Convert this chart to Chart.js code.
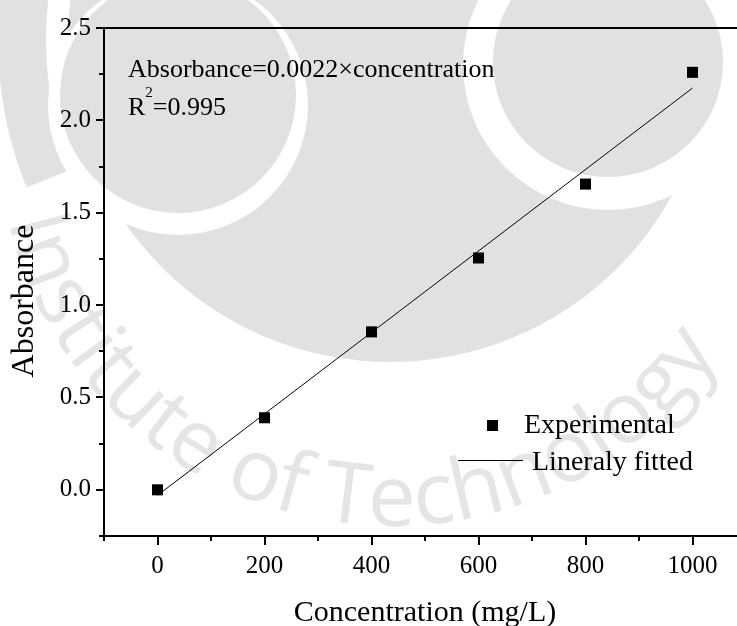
<!DOCTYPE html>
<html><head><meta charset="utf-8">
<script src="https://cdn.jsdelivr.net/npm/chart.js@4/dist/chart.umd.min.js"></script>
<style>html,body{margin:0;padding:0;overflow:hidden;background:#fff;width:737px;height:626px}canvas{display:block}</style>
</head><body>
<canvas id="c" width="780" height="626" style="width:780px;height:626px"></canvas>
<script>
const concentration = [0, 200, 400, 600, 800, 1000];
const absorbance = [0.0, 0.39, 0.855, 1.255, 1.655, 2.26];
const fitX = [0, 1000];
const fitY = [-0.03, 2.175];
const xTickValues = [0, 200, 400, 600, 800, 1000];
const xMinorValues = [-100, 100, 300, 500, 700, 900, 1100];
const yTickValues = [0, 0.5, 1.0, 1.5, 2.0, 2.5];
const yMinorValues = [-0.25, 0.25, 0.75, 1.25, 1.75, 2.25];
const seriesLabels = ['Experimental', 'Lineraly fitted'];
const xTitle = 'Concentration (mg/L)';
const yTitle = 'Absorbance';
const equationText = 'Absorbance=0.0022\u00d7concentration';
const r2Value = '=0.995';
const watermarkText = 'Institute of Technology';

const SERIF = '"Liberation Serif", "Times New Roman", serif';

const watermark = {
  id: 'watermark',
  beforeDraw(chart) {
    const ctx = chart.ctx;
    ctx.save();
    ctx.fillStyle = '#fff';
    ctx.fillRect(0, 0, chart.width, chart.height);
    const g = '#e1e1e1';
    // outer partial ring (upper left)
    ctx.strokeStyle = g;
    ctx.lineWidth = 48;
    ctx.beginPath();
    ctx.arc(392, 40, 370, 158 * Math.PI / 180, 255 * Math.PI / 180);
    ctx.stroke();
    // inner big disk
    ctx.fillStyle = g;
    ctx.beginPath(); ctx.arc(390, 40, 322, 0, Math.PI * 2); ctx.fill();
    // white surrounds of eyes
    ctx.fillStyle = '#fff';
    ctx.beginPath(); ctx.arc(178, 105, 130, 0, Math.PI * 2); ctx.fill();
    ctx.beginPath(); ctx.arc(608, 65, 145, 0, Math.PI * 2); ctx.fill();
    // eyes
    ctx.fillStyle = g;
    ctx.beginPath(); ctx.arc(178, 95, 118, 0, Math.PI * 2); ctx.fill();
    ctx.beginPath(); ctx.arc(608, 62, 115, 0, Math.PI * 2); ctx.fill();
    // curved text
    const cx = 392, cy = 132, R = 394;
    ctx.font = '86px "Open Sans", "DejaVu Sans", sans-serif';
    ctx.fillStyle = '#e5e5e5';
    ctx.textAlign = 'left';
    ctx.textBaseline = 'alphabetic';
    let ang = 167 * Math.PI / 180;
    for (const ch of watermarkText) {
      const w = ctx.measureText(ch).width;
      const mid = ang - (w / 2) / R;
      ctx.save();
      ctx.translate(cx + R * Math.cos(mid), cy + R * Math.sin(mid));
      ctx.rotate(mid - Math.PI / 2);
      ctx.fillText(ch, -w / 2, 0);
      ctx.restore();
      ang -= w / R;
    }
    ctx.restore();
  }
};

const decorations = {
  id: 'decorations',
  afterDraw(chart) {
    const ctx = chart.ctx;
    const xs = chart.scales.x, ys = chart.scales.y;
    const a = chart.chartArea;
    ctx.save();
    ctx.strokeStyle = '#000';
    ctx.fillStyle = '#000';
    ctx.lineWidth = 2;
    ctx.beginPath(); ctx.moveTo(a.left - 1, a.top); ctx.lineTo(chart.width, a.top); ctx.stroke();
    const tick = (vals, len, horiz) => {
      for (const v of vals) {
        ctx.beginPath();
        if (horiz) {
          const p = Math.round(xs.getPixelForValue(v));
          ctx.moveTo(p, a.bottom); ctx.lineTo(p, a.bottom + len);
        } else {
          const p = Math.round(ys.getPixelForValue(v));
          ctx.moveTo(a.left, p); ctx.lineTo(a.left - len, p);
        }
        ctx.stroke();
      }
    };
    tick(xTickValues, 9, true);
    tick(xMinorValues, 5, true);
    tick(yTickValues, 8, false);
    tick(yMinorValues, 5, false);
    ctx.textBaseline = 'alphabetic';
    ctx.textAlign = 'center';
    ctx.font = '30px ' + SERIF;
    ctx.fillText(xTitle, (a.left + a.right) / 2, 621);
    ctx.save();
    ctx.translate(33, 301);
    ctx.rotate(-Math.PI / 2);
    ctx.font = '32px ' + SERIF;
    ctx.fillText(yTitle, 0, 0);
    ctx.restore();
    ctx.textAlign = 'left';
    ctx.font = '26px ' + SERIF;
    ctx.fillText(equationText, 128, 77);
    ctx.fillText('R', 128, 115);
    const rw = ctx.measureText('R').width;
    ctx.font = '15px ' + SERIF;
    ctx.fillText('2', 128 + rw, 97);
    const sw = ctx.measureText('2').width;
    ctx.font = '26px ' + SERIF;
    ctx.fillText(r2Value, 128 + rw + sw, 115);
    const d0 = chart.data.datasets[0], d1 = chart.data.datasets[1];
    ctx.fillStyle = d0.backgroundColor;
    ctx.fillRect(487, 420, 11, 11);
    ctx.strokeStyle = d1.borderColor;
    ctx.lineWidth = 1;
    ctx.beginPath(); ctx.moveTo(458, 460.5); ctx.lineTo(523, 460.5); ctx.stroke();
    ctx.fillStyle = '#000';
    ctx.font = '28px ' + SERIF;
    ctx.fillText(d0.label, 524, 433);
    ctx.fillText(d1.label, 532, 470);
    ctx.restore();
  }
};

new Chart(document.getElementById('c'), {
  type: 'scatter',
  data: {
    datasets: [
      {
        label: seriesLabels[0],
        data: concentration.map((x, i) => ({ x: x, y: absorbance[i] })),
        pointStyle: 'rect', pointRadius: 7.8, pointHoverRadius: 7.8,
        backgroundColor: '#000', borderColor: '#000', borderWidth: 0,
        showLine: false, order: 1
      },
      {
        label: seriesLabels[1],
        data: fitX.map((x, i) => ({ x: x, y: fitY[i] })),
        showLine: true, pointRadius: 0, borderColor: '#000', backgroundColor: '#000',
        borderWidth: 1, order: 2
      }
    ]
  },
  options: {
    responsive: false, animation: false,
    layout: { padding: { top: 26, right: 34, left: 0, bottom: 0 } },
    plugins: { legend: { display: false }, tooltip: { enabled: false } },
    scales: {
      x: {
        type: 'linear', min: -100, max: 1100,
        afterBuildTicks: s => { s.ticks = xTickValues.map(v => ({ value: v })); },
        afterFit: s => { s.height = 90; },
        grid: { display: false, drawTicks: false },
        border: { display: true, color: '#000', width: 2 },
        ticks: { padding: 15, color: '#000', maxRotation: 0, autoSkip: false, font: { family: SERIF, size: 25 },
          callback: v => String(v) }
      },
      y: {
        type: 'linear', min: -0.25, max: 2.5,
        afterBuildTicks: s => { s.ticks = yTickValues.map(v => ({ value: v })); },
        afterFit: s => { s.width = 104; },
        grid: { display: false, drawTicks: false },
        border: { display: true, color: '#000', width: 2 },
        ticks: { padding: 13, color: '#000', autoSkip: false, font: { family: SERIF, size: 25 },
          callback: v => Number(v).toFixed(1) }
      }
    }
  },
  plugins: [watermark, decorations]
});
</script>
</body></html>
